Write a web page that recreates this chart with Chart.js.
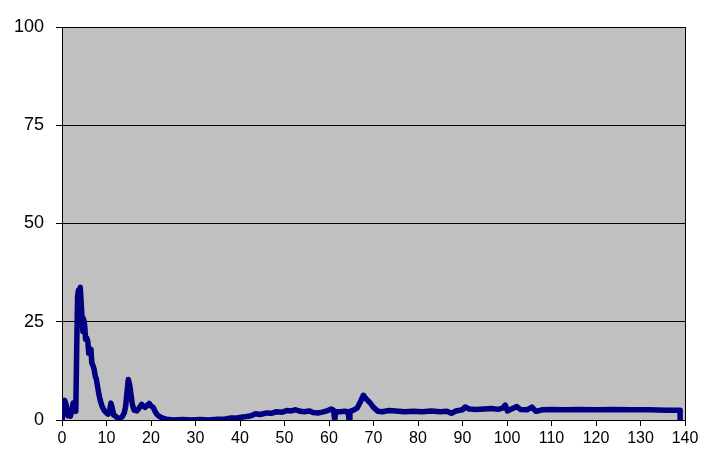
<!DOCTYPE html>
<html>
<head>
<meta charset="utf-8">
<script src="https://cdn.jsdelivr.net/npm/chart.js@4/dist/chart.umd.min.js"></script>
<style>
  body { margin: 0; background: #fff; }
  canvas { display: block; }
</style>
</head>
<body>
<canvas id="grafiek" width="703" height="469"></canvas>
<script>
// meetwaarden
var xWaarden = [0, 0.3, 0.6, 0.9, 1.3, 1.6, 1.9, 2.2, 2.5, 2.7, 3.1, 3.3, 3.5, 3.7, 3.9, 4.1, 4.3, 4.5, 4.7, 4.9,
  5.1, 5.3, 5.5, 5.8, 6.0, 6.2, 6.5, 6.7, 6.9, 7.2, 7.5, 7.7, 8.0, 8.3, 8.6, 9.0, 9.5, 10.0, 10.4, 10.7,
  11.0, 11.3, 11.6, 12.0, 12.5, 13.0, 13.5, 14.0, 14.3, 14.6, 14.9, 15.2, 15.5, 15.8, 16.2, 16.8, 17.3, 17.9, 18.3, 18.7,
  19.2, 19.6, 20.0, 20.5, 21.0, 21.5, 22.0, 22.8, 23.5, 25, 27, 29, 31, 33, 35, 36.5, 38, 39.5, 41, 42.5,
  43.5, 44.5, 46, 47, 48.2, 49.5, 50.5, 51.5, 52.5, 53.5, 54.5, 55.5, 56.5, 57.5, 58.5, 59.5, 60.5, 61.0, 61.3, 61.5,
  62.5, 63.5, 64.3, 64.5, 64.7, 65.5, 66.3, 67.0, 67.7, 68.3, 69.2, 70, 71, 72, 73.5, 75, 77, 79, 81, 83,
  85, 86.5, 87.5, 88.5, 90, 90.6, 91.5, 93, 95, 96.5, 98, 99, 99.6, 100.1, 101, 102.2, 103, 104.5, 105.6, 106.5,
  108, 110, 113, 116, 120, 124, 128, 132, 136, 138.9, 138.9];
var yWaarden = [0, 3, 5, 4, 1.1, 2, 1, 2.5, 4.3, 2.8, 2.2, 18, 31.5, 33, 31, 33.8, 30, 26, 22.5, 25.5,
  24, 20.5, 21, 20, 17, 17.5, 18, 14.5, 14, 13, 11, 10.5, 8.5, 6.5, 5, 3.5, 2.4, 1.8, 1.5, 2.5,
  4.3, 3, 1.3, 1, 0.5, 0.4, 0.8, 1.8, 3.5, 7, 10.3, 9, 6.5, 4, 2.5, 2.3, 3, 4, 3.5, 3.2,
  3.8, 4.2, 3.6, 3.2, 2, 1.2, 0.8, 0.4, 0.2, 0, 0.1, 0, 0.1, 0, 0.2, 0.2, 0.5, 0.6, 0.8, 1.1,
  1.6, 1.4, 1.8, 1.7, 2.1, 2, 2.4, 2.3, 2.6, 2.2, 2.1, 2.3, 1.9, 1.8, 2, 2.3, 2.8, 2.5, 0, 2.1,
  2.1, 2.2, 2.1, 0, 2.2, 2.5, 3, 4.5, 6.3, 5.4, 4.4, 3.2, 2.2, 2.1, 2.4, 2.3, 2.1, 2.2, 2.1, 2.3,
  2.1, 2.2, 1.7, 2.3, 2.6, 3.3, 2.8, 2.7, 2.8, 2.9, 2.7, 3, 3.8, 2.3, 2.8, 3.4, 2.7, 2.6, 3.3, 2.2,
  2.6, 2.7, 2.6, 2.7, 2.6, 2.7, 2.6, 2.6, 2.5, 2.5, 0];
var xTicks = [0, 140, 10];   // min, max, stap
var yTicks = [0, 100, 25];

var punten = xWaarden.map(function(x, i) { return { x: x, y: yWaarden[i] }; });

// grijze achtergrond en rand van het plotvlak
var plotvlak = {
  id: 'plotvlak',
  beforeDraw: function(chart) {
    var c = chart.ctx, a = chart.chartArea;
    c.save();
    c.fillStyle = '#C0C0C0';
    c.fillRect(a.left, a.top, a.right - a.left, a.bottom - a.top);
    c.restore();
  },
  afterDatasetsDraw: function(chart) {
    var c = chart.ctx, a = chart.chartArea;
    c.save();
    c.strokeStyle = '#000';
    c.lineWidth = 1;
    c.beginPath();
    c.moveTo(a.right + 0.5, a.top);
    c.lineTo(a.right + 0.5, a.bottom);
    c.stroke();
    c.restore();
  }
};

function grafiek() {
  var ctx = document.getElementById('grafiek');
  var myChart = new Chart(ctx, {
    type: 'line',
    data: {
      datasets: [{
        data: punten,
        borderColor: '#000080',
        borderWidth: 5.5,
        borderJoinStyle: 'round',
        borderCapStyle: 'round',
        pointRadius: 0,
        tension: 0,
        fill: false
      }]
    },
    options: {
      responsive: false,
      animation: false,
      layout: {
        padding: { top: 27, right: 18, left: 0, bottom: 0 }
      },
      scales: {
        x: { // X-as
          type: 'linear',
          min: xTicks[0],
          max: xTicks[1],
          ticks: {
            stepSize: xTicks[2],
            color: '#000',
            padding: 3,
            maxRotation: 0,
            font: { family: 'Liberation Sans', size: 16 }
          },
          grid: {
            drawOnChartArea: false,
            tickLength: 6,
            color: '#000'
          },
          border: { color: '#000' },
          afterFit: function(s) { s.height = 49; }
        },
        y: { // Y-as
          min: yTicks[0],
          max: yTicks[1],
          ticks: {
            stepSize: yTicks[2],
            color: '#000',
            padding: 12,
            font: { family: 'Liberation Sans', size: 18 }
          },
          grid: {
            color: '#000',
            tickLength: 6
          },
          border: { color: '#000' },
          afterFit: function(s) { s.width = 62; }
        }
      },
      plugins: {
        legend: { display: false },
        tooltip: { enabled: false }
      }
    },
    plugins: [plotvlak]
  });
}

window.onload = function() {
  grafiek();
}
</script>
</body>
</html>
